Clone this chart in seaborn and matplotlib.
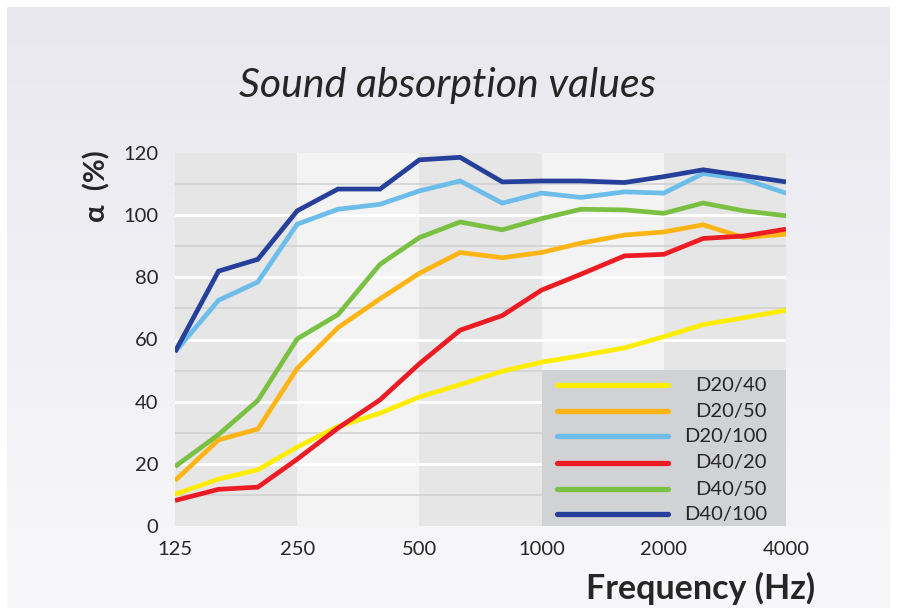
import numpy as np
import pandas as pd
import matplotlib
matplotlib.use("Agg")
import matplotlib.pyplot as plt
import seaborn as sns
from matplotlib.colors import LinearSegmentedColormap
from matplotlib.patches import Rectangle
from matplotlib.lines import Line2D

freqs = [125, 160, 200, 250, 315, 400, 500, 630, 800, 1000, 1250, 1600, 2000, 2500, 3150, 4000]
d20_40 = [10.2, 15.1, 18.1, 25.4, 32.0, 36.3, 41.5, 45.5, 49.8, 52.7, 54.8, 57.3, 60.9, 64.8, 67.0, 69.4]
d20_50 = [14.6, 27.7, 31.2, 50.7, 63.8, 73.1, 81.3, 88.0, 86.3, 88.0, 91.0, 93.6, 94.6, 96.9, 92.8, 93.9]
d20_100 = [56.0, 72.6, 78.5, 97.1, 101.9, 103.5, 107.8, 111.0, 103.9, 107.1, 105.7, 107.5, 107.1, 113.4, 111.6, 107.1]
d40_20 = [8.2, 11.8, 12.5, 21.5, 31.5, 40.6, 52.2, 63.0, 67.7, 75.9, 81.0, 86.9, 87.4, 92.5, 93.3, 95.5]
d40_50 = [19.1, 29.4, 40.4, 60.2, 68.0, 84.2, 92.8, 97.8, 95.3, 98.9, 101.9, 101.7, 100.6, 103.9, 101.4, 99.8]
d40_100 = [56.0, 82.0, 85.8, 101.4, 108.4, 108.4, 117.8, 118.6, 110.7, 111.0, 111.0, 110.5, 112.4, 114.6, 112.7, 110.7]
series_names = ["D20/40", "D20/50", "D20/100", "D40/20", "D40/50", "D40/100"]
series_vals = [d20_40, d20_50, d20_100, d40_20, d40_50, d40_100]
colors = ["#FFED00", "#FDB515", "#6CBDE9", "#ED1C24", "#7AC143", "#253F9B"]
xticks = [125, 250, 500, 1000, 2000, 4000]
yticks = [0, 20, 40, 60, 80, 100, 120]

df = pd.DataFrame({
    "freq": np.tile(freqs, len(series_names)),
    "value": np.concatenate(series_vals),
    "series": np.repeat(series_names, len(freqs)),
})

sns.set_theme(style="white")
plt.rcParams["font.family"] = ["Lato", "DejaVu Sans"]
txt = "#262626"

fig = plt.figure(figsize=(8.97, 6.16), dpi=100, facecolor="white")

# background panel with soft vertical gradient
bg = fig.add_axes([7/897, 8/616, 883/897, 601/616], zorder=-10)
cmap = LinearSegmentedColormap.from_list("bg", ["#F8F8FA", "#E9E8EF"])
bg.imshow(np.linspace(0, 1, 256).reshape(-1, 1)[::-1], aspect="auto", cmap=cmap,
          extent=[0, 1, 0, 1])
bg.set_axis_off()

ax = fig.add_axes([175/897, (616-526)/616, 611/897, 373/616])
ax.set_xscale("log", base=2)
ax.set_xlim(125, 4000)
ax.set_ylim(0, 120)

# octave bands
band_cols = ["#E6E6E6", "#F3F3F3", "#E6E6E6", "#F3F3F3", "#E6E6E6"]
for i in range(len(xticks) - 1):
    ax.axvspan(xticks[i], xticks[i+1], color=band_cols[i], zorder=0, lw=0)
ax.set_facecolor("none")

for y in [10, 30, 50, 70, 90, 110]:
    ax.axhline(y, color="#D2D2D2", lw=1.2, zorder=1)
for y in [20, 40, 60, 80, 100]:
    ax.axhline(y, color="white", lw=2.2, zorder=1)

# legend box
ax.add_patch(Rectangle((0.6007, 0), 0.3993, 0.418, transform=ax.transAxes,
                       facecolor="#D1D2D4", edgecolor="none", zorder=2))

sns.lineplot(data=df, x="freq", y="value", hue="series", hue_order=series_names,
             palette=colors, lw=3.4, ax=ax, legend=False, zorder=3)
for l in ax.lines[-len(series_names):]:
    l.set_solid_capstyle("butt")
    l.set_solid_joinstyle("miter")

rows = [0.378, 0.308, 0.241, 0.169, 0.099, 0.032]
for name, col, yr in zip(series_names, colors, rows):
    ax.add_line(Line2D([0.625, 0.807], [yr, yr], transform=ax.transAxes, color=col,
                       lw=3.8, solid_capstyle="round", zorder=4))
    ax.text(0.969, yr, name, transform=ax.transAxes, ha="right", va="center",
            fontsize=14.5, color=txt, zorder=5)

ax.set_xticks(xticks)
ax.set_xticklabels([str(t) for t in xticks])
ax.set_yticks(yticks)
ax.set_yticklabels([str(t) for t in yticks])
ax.minorticks_off()
ax.tick_params(axis="both", length=0, labelsize=14.5, labelcolor=txt)
ax.tick_params(axis="x", pad=11)
ax.tick_params(axis="y", pad=12)
for s in ax.spines.values():
    s.set_visible(False)
ax.grid(False)
ax.set_xlabel("")
ax.set_ylabel("")

fig.text(447/897, 1 - 86/616, "Sound absorption values", ha="center", va="center",
         fontsize=29.5, style="italic", color=txt)
fig.text(815/897, 1 - 588/616, "Frequency (Hz)", ha="right", va="center",
         fontsize=24.5, fontweight="bold", color=txt)
fig.text(97/897, 1 - 186/616, "α  (%)", ha="center", va="center", rotation=90,
         fontsize=21, fontweight="bold", color=txt)

fig.savefig("out.png", dpi=100, facecolor="white")
